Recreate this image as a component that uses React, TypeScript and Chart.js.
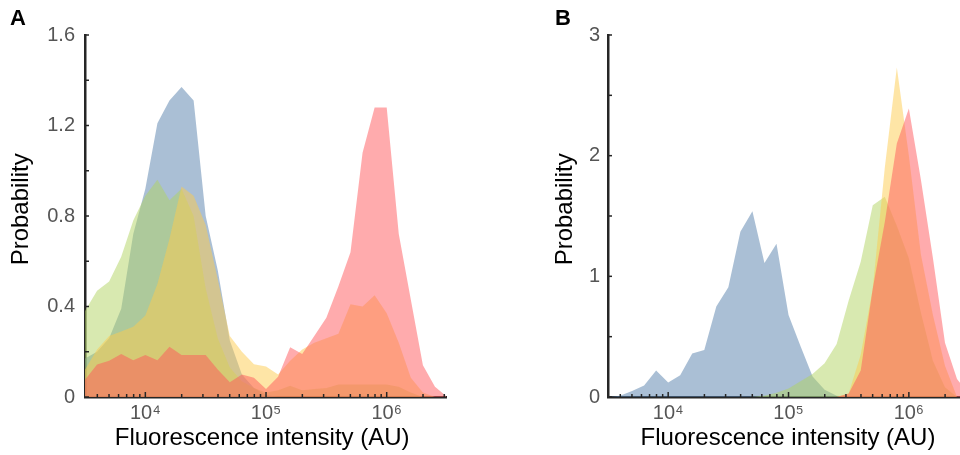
import React, { useEffect, useRef } from 'react';
import { Chart, registerables } from 'chart.js';

Chart.register(...registerables);

// Bin centres (fluorescence intensity, AU), log-spaced
const binCenters = [
  3162, 3981, 5012, 6310, 7943, 10000, 12589, 15849, 19953, 25119, 31623,
  39811, 50119, 63096, 79433, 100000, 125893, 158489, 199526, 251189, 316228,
  398107, 501187, 630957, 794328, 1000000, 1258925, 1584893, 1995262, 2511886, 3162278,
];

// Panel A series
const blueA = [0.17, 0.2, 0.26, 0.39, 0.72, 0.92, 1.21, 1.31, 1.37, 1.31, 0.8, 0.56, 0.25, 0.1, 0.04, 0.01, 0, 0, 0, 0, 0, 0, 0, 0, 0, 0, 0, 0, 0, 0, 0];
const greenA = [0.38, 0.47, 0.51, 0.62, 0.78, 0.89, 0.96, 0.87, 0.92, 0.8, 0.48, 0.26, 0.13, 0.07, 0.04, 0.02, 0.03, 0.05, 0.03, 0.035, 0.04, 0.055, 0.055, 0.055, 0.055, 0.055, 0.045, 0.02, 0, 0, 0];
const yellowA = [0.12, 0.21, 0.27, 0.29, 0.31, 0.36, 0.5, 0.7, 0.93, 0.89, 0.76, 0.52, 0.27, 0.2, 0.145, 0.135, 0.1, 0.16, 0.21, 0.24, 0.26, 0.28, 0.41, 0.4, 0.45, 0.37, 0.24, 0.085, 0.02, 0, 0];
const pinkA = [0.076, 0.144, 0.16, 0.19, 0.162, 0.186, 0.162, 0.222, 0.186, 0.186, 0.186, 0.122, 0.065, 0.1, 0.085, 0.035, 0.09, 0.22, 0.19, 0.27, 0.35, 0.49, 0.64, 1.08, 1.28, 1.28, 0.72, 0.43, 0.14, 0.045, 0];

// Panel B series
const blueB = [0, 0.01, 0.05, 0.095, 0.22, 0.12, 0.18, 0.36, 0.39, 0.75, 0.91, 1.37, 1.54, 1.11, 1.27, 0.68, 0.42, 0.17, 0.06, 0.01, 0, 0, 0, 0, 0, 0, 0, 0, 0, 0, 0];
const greenB = [0, 0, 0, 0, 0, 0, 0, 0, 0, 0, 0, 0, 0, 0.01, 0.035, 0.07, 0.13, 0.19, 0.28, 0.44, 0.8, 1.12, 1.59, 1.66, 1.42, 1.15, 0.7, 0.3, 0.08, 0, 0];
const yellowB = [0, 0, 0, 0, 0, 0, 0, 0, 0, 0, 0, 0, 0, 0, 0, 0, 0, 0, 0, 0, 0.03, 0.35, 0.9, 1.9, 2.73, 2.0, 1.18, 0.68, 0.26, 0, 0];
const pinkB = [0, 0, 0, 0, 0, 0, 0, 0, 0, 0, 0, 0, 0, 0, 0, 0, 0, 0, 0, 0, 0.03, 0.22, 0.9, 1.45, 2.1, 2.39, 1.8, 1.15, 0.45, 0.15, 0.02];

// Axis ticks
const xTickValues = [
  4000, 5000, 6000, 7000, 8000, 9000, 10000,
  20000, 30000, 40000, 50000, 60000, 70000, 80000, 90000, 100000,
  200000, 300000, 400000, 500000, 600000, 700000, 800000, 900000, 1000000,
  2000000, 3000000,
];
const xMajorTicks = [10000, 100000, 1000000];
const xMajorLabels = ['10⁴', '10⁵', '10⁶'];

const yTicksA = [0, 0.2, 0.4, 0.6, 0.8, 1.0, 1.2, 1.4, 1.6];
const yLabelsA = ['0', '', '0.4', '', '0.8', '', '1.2', '', '1.6'];
const yTicksB = [0, 0.5, 1, 1.5, 2, 2.5, 3];
const yLabelsB = ['0', '', '1', '', '2', '', '3'];

const xTitle = 'Fluorescence intensity (AU)';
const yTitle = 'Probability';

const fillColors = [
  'rgba(85,127,171,0.5)',
  'rgba(177,211,97,0.5)',
  'rgba(253,203,77,0.5)',
  'rgba(255,87,91,0.5)',
];

const FONT = "'Liberation Sans', Arial, Helvetica, sans-serif";
const AXIS = '#262626';

const inwardTicks = {
  id: 'inwardTicks',
  afterDraw(chart: any) {
    const { ctx, chartArea, scales } = chart;
    ctx.save();
    ctx.strokeStyle = AXIS;
    ctx.lineWidth = 1.5;
    scales.y.ticks.forEach((t: any) => {
      const y = scales.y.getPixelForValue(t.value);
      ctx.beginPath();
      ctx.moveTo(chartArea.left, y);
      ctx.lineTo(chartArea.left + 4, y);
      ctx.stroke();
    });
    scales.x.ticks.forEach((t: any) => {
      const x = scales.x.getPixelForValue(t.value);
      if (x > chartArea.right + 1) return;
      const len = xMajorTicks.indexOf(t.value) >= 0 ? 5 : 3;
      ctx.beginPath();
      ctx.moveTo(x, chartArea.bottom);
      ctx.lineTo(x, chartArea.bottom - len);
      ctx.stroke();
    });
    ctx.restore();
  },
};

function makeConfig(p: {
  series: number[][];
  yMax: number;
  yTicks: number[];
  yLabels: string[];
  yAxisWidth: number;
  padRight: number;
  titlePad: number;
  labelPad: number;
  xTitleText: string;
}): any {
  const datasets = p.series.map((arr, i) => ({
    data: arr.map((v, j) => ({ x: binCenters[j], y: v })),
    backgroundColor: fillColors[i],
    borderColor: 'transparent',
    borderWidth: 0,
    pointRadius: 0,
    fill: 'origin',
    tension: 0,
    order: 4 - i,
  }));
  return {
    type: 'line',
    data: { datasets },
    plugins: [inwardTicks],
    options: {
      animation: false,
      responsive: false,
      events: [],
      layout: { padding: { left: 0, right: p.padRight, top: 35, bottom: 0 } },
      plugins: { legend: { display: false }, tooltip: { enabled: false } },
      scales: {
        x: {
          type: 'logarithmic',
          min: 3162,
          max: 3100000,
          afterBuildTicks: (s: any) => {
            s.ticks = xTickValues.map((v) => ({ value: v }));
          },
          afterFit: (s: any) => {
            s.height = 58;
          },
          grid: { drawOnChartArea: false, drawTicks: false },
          border: { display: true, color: AXIS, width: 2.5 },
          ticks: {
            autoSkip: false,
            maxRotation: 0,
            padding: 4,
            color: '#555555',
            font: { size: 20, family: FONT },
            callback: (v: any) => {
              const i = xMajorTicks.indexOf(v);
              return i >= 0 ? xMajorLabels[i] : '';
            },
          },
          title: {
            display: true,
            text: p.xTitleText,
            color: '#000000',
            font: { size: 24, family: FONT },
            padding: { top: 0, bottom: 2 },
          },
        },
        y: {
          type: 'linear',
          min: 0,
          max: p.yMax,
          afterBuildTicks: (s: any) => {
            s.ticks = p.yTicks.map((v) => ({ value: v }));
          },
          afterFit: (s: any) => {
            s.width = p.yAxisWidth;
          },
          grid: { drawOnChartArea: false, drawTicks: false },
          border: { display: true, color: AXIS, width: 2.5 },
          ticks: {
            autoSkip: false,
            padding: p.labelPad,
            color: '#555555',
            font: { size: 20, family: FONT },
            callback: (v: any) => {
              const i = p.yTicks.indexOf(v);
              return i >= 0 ? p.yLabels[i] : '';
            },
          },
          title: {
            display: true,
            text: '  ' + yTitle,
            color: '#000000',
            font: { size: 24, family: FONT },
            padding: { top: p.titlePad, bottom: 0 },
          },
        },
      },
    },
  };
}

export default function App() {
  const refA = useRef<HTMLCanvasElement>(null);
  const refB = useRef<HTMLCanvasElement>(null);

  useEffect(() => {
    Chart.defaults.font.family = FONT;
    const a = new Chart(
      refA.current as HTMLCanvasElement,
      makeConfig({
        series: [blueA, greenA, yellowA, pinkA],
        yMax: 1.6,
        yTicks: yTicksA,
        yLabels: yLabelsA,
        yAxisWidth: 85,
        padRight: 34,
        titlePad: 7,
        labelPad: 10,
        xTitleText: xTitle + ' ',
      })
    );
    const b = new Chart(
      refB.current as HTMLCanvasElement,
      makeConfig({
        series: [blueB, greenB, yellowB, pinkB],
        yMax: 3,
        yTicks: yTicksB,
        yLabels: yLabelsB,
        yAxisWidth: 128,
        padRight: 12,
        titlePad: 71,
        labelPad: 8,
        xTitleText: xTitle,
      })
    );
    return () => {
      a.destroy();
      b.destroy();
    };
  }, []);

  const letter: React.CSSProperties = {
    position: 'absolute',
    top: 7,
    font: `bold 22px ${FONT}`,
    lineHeight: '22px',
    color: '#000',
  };

  return (
    <div
      style={{
        position: 'fixed',
        left: 0,
        top: 0,
        width: 960,
        height: 455,
        overflow: 'hidden',
        background: '#ffffff',
      }}
    >
      <canvas
        ref={refA}
        width={480}
        height={455}
        style={{ position: 'absolute', left: 0, top: 0, width: 480, height: 455 }}
      />
      <canvas
        ref={refB}
        width={500}
        height={455}
        style={{ position: 'absolute', left: 480, top: 0, width: 500, height: 455 }}
      />
      <div style={{ ...letter, left: 10 }}>A</div>
      <div style={{ ...letter, left: 555 }}>B</div>
    </div>
  );
}
